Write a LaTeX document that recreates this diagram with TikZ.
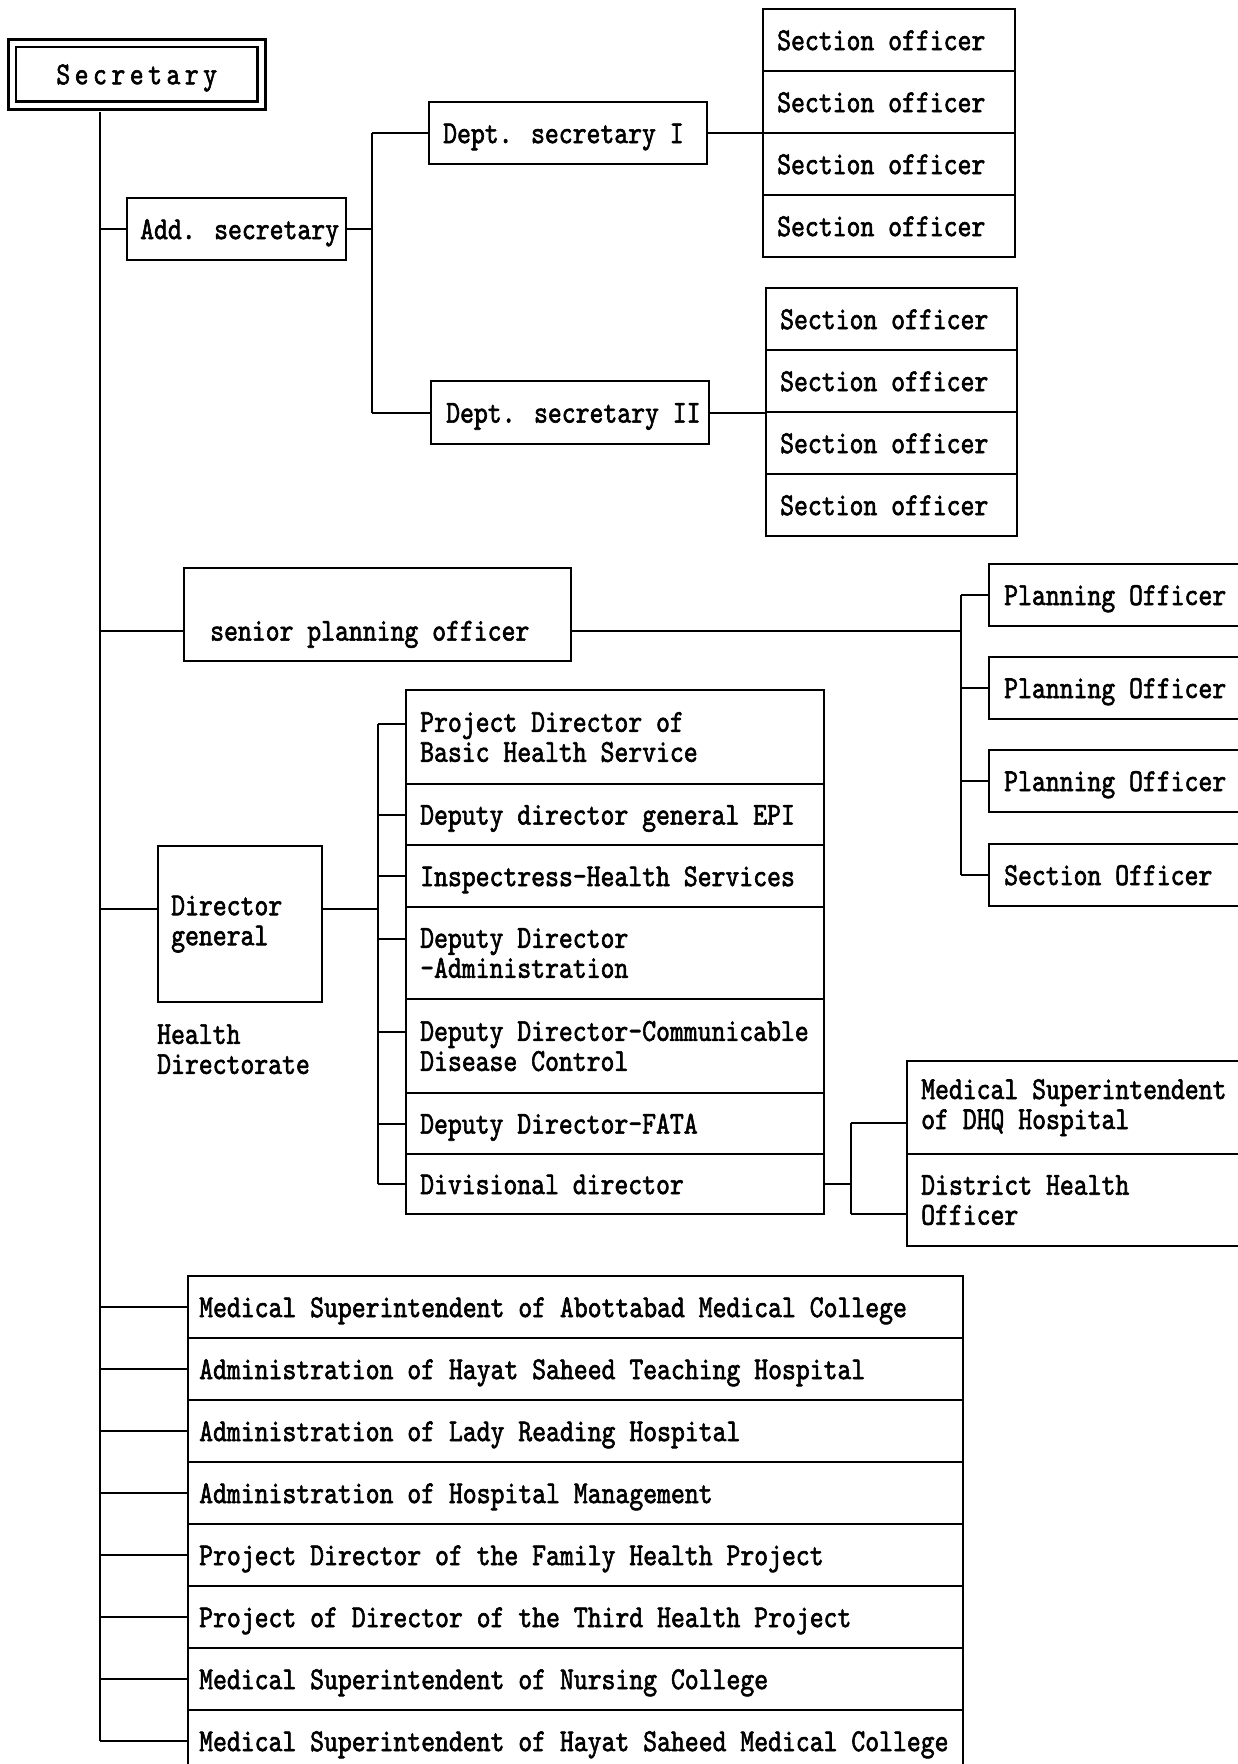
\documentclass[tikz,border=0pt]{standalone}
\usepackage{fontspec}
\newfontfamily\mono{lmmono10-regular.otf}[FakeStretch=0.826,FakeBold=1.8]
\newfontfamily\monols{lmmono10-regular.otf}[FakeStretch=0.826,FakeBold=1.8,LetterSpace=14]
\begin{document}
\begin{tikzpicture}[x=1pt,y=-1pt,
  bx/.style={draw, line width=2.2pt, inner sep=0pt, rectangle, anchor=north west},
  ln/.style={line width=2.2pt},
  lbl/.style={anchor=west, inner sep=0pt, font=\mono\fontsize{32}{30}\selectfont, text height=22pt, text depth=2pt},
  lbltwo/.style={anchor=west, inner sep=0pt, align=left, font=\mono\fontsize{32}{30}\selectfont},
]
\fill[white] (0,0) rectangle (1238,1764);
\path[use as bounding box] (0,0) rectangle (1238,1764);
\clip (0,0) rectangle (1238,1764);

% coordinates of the buses
\coordinate (tx) at (100,0);
\coordinate (b1) at (372,0);
\coordinate (pbx) at (961,0);
\coordinate (dbx) at (378,0);
\coordinate (vx) at (851,0);

% Secretary
\node[draw, double, double distance=5pt, line width=2.6pt, minimum width=249.5pt, minimum height=62.5pt, inner sep=0pt,
      font=\monols\fontsize{32}{30}\selectfont, text height=22pt, text depth=2pt] (sec) at (136.75,74.25) {Secretary};

% Additional secretary and departments
\node[bx, minimum width=219pt, minimum height=62pt] (adds) at (126,197) {};
\node[lbl] (addsT) at ([xshift=14pt]adds.west) {Add. secretary};
\node[bx, minimum width=278pt, minimum height=62pt] (dept1) at (428,101) {};
\node[lbl] (dept1T) at ([xshift=15pt]dept1.west) {Dept. secretary I};
\node[bx, minimum width=278pt, minimum height=63pt] (dept2) at (430,380) {};
\node[lbl] (dept2T) at ([xshift=16pt]dept2.west) {Dept. secretary II};

% Section officers, group 1
\foreach \i/\n in {0/a,1/b,2/c,3/d}{
  \node[bx, minimum width=252pt, minimum height=62pt] (s1\n) at (762,{8+62*\i}) {};
  \node[lbl] (s1\n T) at ([xshift=15pt]s1\n.west) {Section officer};
}
% Section officers, group 2
\foreach \i/\n in {0/a,1/b,2/c,3/d}{
  \node[bx, minimum width=251pt, minimum height=62pt] (s2\n) at (765,{287+62*\i}) {};
  \node[lbl] (s2\n T) at ([xshift=15pt]s2\n.west) {Section officer};
}

% senior planning officer
\node[bx, minimum width=387pt, minimum height=93pt] (spo) at (183,567) {};
\coordinate (spoL) at ([yshift=-16pt]spo.west);
\coordinate (spoR) at ([yshift=-16pt]spo.east);
\node[lbl] (spoT) at ([xshift=27pt]spoL) {senior planning officer};

% planning officers
\node[bx, minimum width=300pt, minimum height=62pt, anchor=west] (po1) at (988,595) {};
\node[bx, minimum width=300pt, minimum height=62pt, anchor=west] (po2) at (988,688) {};
\node[bx, minimum width=300pt, minimum height=62pt, anchor=west] (po3) at (988,781) {};
\node[bx, minimum width=300pt, minimum height=62pt, anchor=west] (po4) at (988,875) {};
\node[lbl] (po1T) at ([xshift=16pt]po1.west) {Planning Officer};
\node[lbl] (po2T) at ([xshift=16pt]po2.west) {Planning Officer};
\node[lbl] (po3T) at ([xshift=16pt]po3.west) {Planning Officer};
\node[lbl] (po4T) at ([xshift=16pt]po4.west) {Section Officer};

% Director general
\node[bx, minimum width=164pt, minimum height=156pt] (dg) at (157,845) {};
\coordinate (dgL) at ([yshift=15pt]dg.west);
\coordinate (dgR) at ([yshift=15pt]dg.east);
\node[lbltwo] (dgT) at ([xshift=14pt]dg.west) {Director\\general};
\node[lbltwo] (hd) at ([yshift=-46pt]dg.south west) {Health\\Directorate};

% Health directorate list
\node[bx, minimum width=418pt, minimum height=94pt] (d1) at (405,689) {};
\node[bx, minimum width=418pt, minimum height=61pt] (d2) at (405,783) {};
\node[bx, minimum width=418pt, minimum height=62pt] (d3) at (405,844) {};
\node[bx, minimum width=418pt, minimum height=92pt] (d4) at (405,906) {};
\node[bx, minimum width=418pt, minimum height=94pt] (d5) at (405,998) {};
\node[bx, minimum width=418pt, minimum height=61pt] (d6) at (405,1092) {};
\node[bx, minimum width=418pt, minimum height=60pt] (d7) at (405,1153) {};
\node[lbltwo] (d1T) at ([xshift=15pt]d1.west) {Project Director of\\Basic Health Service};
\node[lbl] (d2T) at ([xshift=15pt]d2.west) {Deputy director general EPI};
\node[lbl] (d3T) at ([xshift=15pt]d3.west) {Inspectress-Health Services};
\node[lbltwo] (d4T) at ([xshift=15pt]d4.west) {Deputy Director\\-Administration};
\node[lbltwo] (d5T) at ([xshift=15pt]d5.west) {Deputy Director-Communicable\\Disease Control};
\node[lbl] (d6T) at ([xshift=15pt]d6.west) {Deputy Director-FATA};
\node[lbl] (d7T) at ([xshift=15pt]d7.west) {Divisional director};
\coordinate (d1L) at ([yshift=13pt]d1.west);
\coordinate (d4L) at ([yshift=14pt]d4.west);
\coordinate (d5L) at ([yshift=14pt]d5.west);

% District level
\node[bx, minimum width=400pt, minimum height=93pt] (h1) at (906,1060) {};
\node[bx, minimum width=400pt, minimum height=92pt] (h2) at (906,1153) {};
\node[lbltwo] (h1T) at ([xshift=15pt]h1.west) {Medical Superintendent\\of DHQ Hospital};
\node[lbltwo] (h2T) at ([xshift=15pt]h2.west) {District Health\\Officer};
\coordinate (h1L) at ([yshift=-15pt]h1.west);
\coordinate (h2L) at ([yshift=-14pt]h2.west);

% Bottom list
\foreach \i/\t in {1/{Medical Superintendent of Abottabad Medical College},
                   2/{Administration of Hayat Saheed Teaching Hospital},
                   3/{Administration of Lady Reading Hospital},
                   4/{Administration of Hospital Management},
                   5/{Project Director of the Family Health Project},
                   6/{Project of Director of the Third Health Project},
                   7/{Medical Superintendent of Nursing College},
                   8/{Medical Superintendent of Hayat Saheed Medical College}}{
  \node[bx, minimum width=775pt, minimum height=62pt] (m\i) at (187,{1275+62*(\i-1)}) {};
  \node[lbl] (m\i T) at ([xshift=12pt]m\i.west) {\t};
}

% ---------- connectors ----------
% trunk
\draw[line width=2.8pt] ([yshift=-5pt]sec.south -| tx) -- (tx |- m8.west);
\draw[ln] (tx |- adds.west) -- (adds.west);
\draw[ln] (tx |- spoL) -- (spoL);
\draw[ln] (tx |- dgL) -- (dgL);
\foreach \i in {1,...,8}{
  \draw[ln] (tx |- m\i.west) -- (m\i.west);
}
% additional secretary branch
\draw[ln] (adds.east) -- (adds.east -| b1);
\draw[ln] (dept1.west -| b1) -- (dept2.west -| b1);
\draw[ln] (dept1.west -| b1) -- (dept1.west);
\draw[ln] (dept2.west -| b1) -- (dept2.west);
\draw[ln] (dept1.east) -- (dept1.east -| s1b.west);
\draw[ln] (dept2.east) -- (dept2.east -| s2b.west);
% planning branch
\draw[ln] (spoR) -- (spoR -| pbx);
\draw[ln] (po1.west -| pbx) -- (po4.west -| pbx);
\draw[ln] (po1.west -| pbx) -- (po1.west);
\draw[ln] (po2.west -| pbx) -- (po2.west);
\draw[ln] (po3.west -| pbx) -- (po3.west);
\draw[ln] (po4.west -| pbx) -- (po4.west);
% director general branch
\draw[ln] (dgR) -- (dgR -| dbx);
\draw[ln] (d1L -| dbx) -- (d7.west -| dbx);
\draw[ln] (d1L -| dbx) -- (d1L);
\draw[ln] (d2.west -| dbx) -- (d2.west);
\draw[ln] (d3.west -| dbx) -- (d3.west);
\draw[ln] (d4L -| dbx) -- (d4L);
\draw[ln] (d5L -| dbx) -- (d5L);
\draw[ln] (d6.west -| dbx) -- (d6.west);
\draw[ln] (d7.west -| dbx) -- (d7.west);
% divisional director branch
\draw[ln] (d7.east) -- (d7.east -| vx);
\draw[ln] (h1L -| vx) -- (h2L -| vx);
\draw[ln] (h1L -| vx) -- (h1L);
\draw[ln] (h2L -| vx) -- (h2L);
\end{tikzpicture}
\end{document}
